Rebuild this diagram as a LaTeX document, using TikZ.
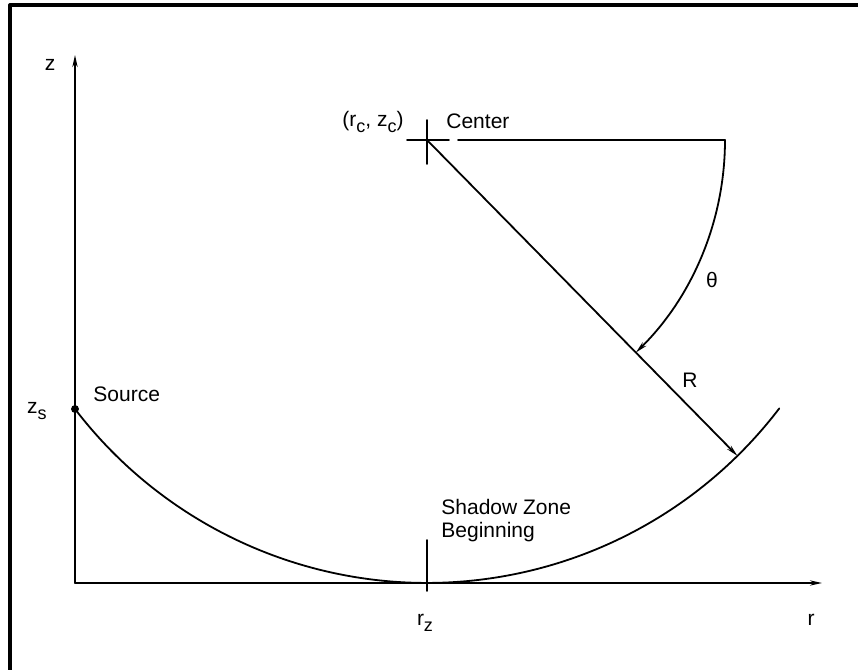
\documentclass[tikz,border=0pt]{standalone}
\usepackage{fontspec}
\setmainfont{Liberation Sans}
\usetikzlibrary{arrows.meta,positioning,calc}
\newcommand{\lowsub}[1]{\raisebox{-0.55ex}{\fontsize{9}{9}\selectfont #1}}

\begin{document}
\begin{tikzpicture}[
			x=0.5pt,
			y=0.5pt,
			line cap=round,
			line join=round,
			font=\fontsize{10.5}{11.5}\selectfont,
			curve/.style={line width=0.9pt},
			frameline/.style={line width=1.6pt},
			tip/.style={-{Stealth[length=6pt,width=2.6pt]}},
			dot/.style={circle,fill,inner sep=1.4pt},
			lbl/.style={inner sep=0pt}
			]
			
			\useasboundingbox (0,0) rectangle (858,670);
			
			%------------------------------
			% Frame (top and left edges)
			%------------------------------
			\coordinate (fbot) at (10,0);
			\coordinate (fcorner) at (10,665);
			\coordinate (fright) at (858,665);
			\draw[frameline] (fbot) -- (fcorner) -- (fright);
			
			%------------------------------
			% Axes
			%------------------------------
			\coordinate (O) at (75,87);
			\coordinate (ztip) at (75,615);
			\coordinate (rtip) at (822,87);
			\draw[curve,tip] (O) -- (ztip);
			\draw[curve,tip] (O) -- (rtip);
			
			\node[lbl] (zlab) at (50,605) {z};
			\node[lbl] (rlab) at (811,50) {r};
			
			%------------------------------
			% Ray path (circle arc)
			%------------------------------
			\coordinate (C) at (427,530);
			\node[dot] (src) at (75,261) {};
			\draw[curve] (src.center) arc[start angle=217.4, end angle=322.7, radius=221.5pt];
			
			\node[lbl] (zslab) at (37,259) {z\lowsub{s}};
			\node[lbl, anchor=west] (srclab) at (93,276) {Source};
			
			% center cross
			\coordinate (cl) at (407,530);
			\coordinate (cr) at (449,530);
			\coordinate (ct) at (427,550);
			\coordinate (cb) at (427,506);
			\draw[curve] (cl) -- (cr);
			\draw[curve] (ct) -- (cb);
			
			\node[lbl, anchor=east] (clab) at (404,548) {(r\lowsub{c}, z\lowsub{c})};
			\node[lbl, anchor=west] (centerlab) at (446,549) {Center};
			
			% horizontal reference line and angle
			\coordinate (H) at (458,530);
			\coordinate (T) at (725,530);
			\draw[curve] (H) -- (T);
			\draw[curve,tip] (T) arc[start angle=0, end angle=-45.5, radius=149pt];
			\node[lbl] (thetalab) at (712,390) {θ};
			
			% radius
			\path (C) ++(-45.5:221.5pt) coordinate (P);
			\draw[curve,tip] (C) -- (P);
			\node[lbl] (Rlab) at (690,290) {R};
			
			%------------------------------
			% Shadow zone beginning
			%------------------------------
			\coordinate (ttop) at (427,130);
			\coordinate (tbot) at (427,79);
			\draw[curve] (ttop) -- (tbot);
			\node[lbl, anchor=west, align=left] (shadowlab) at (441,149) {Shadow Zone\\Beginning};
			\node[lbl] (rzlab) at (425,47) {r\lowsub{z}};
		\end{tikzpicture}
\end{document}
